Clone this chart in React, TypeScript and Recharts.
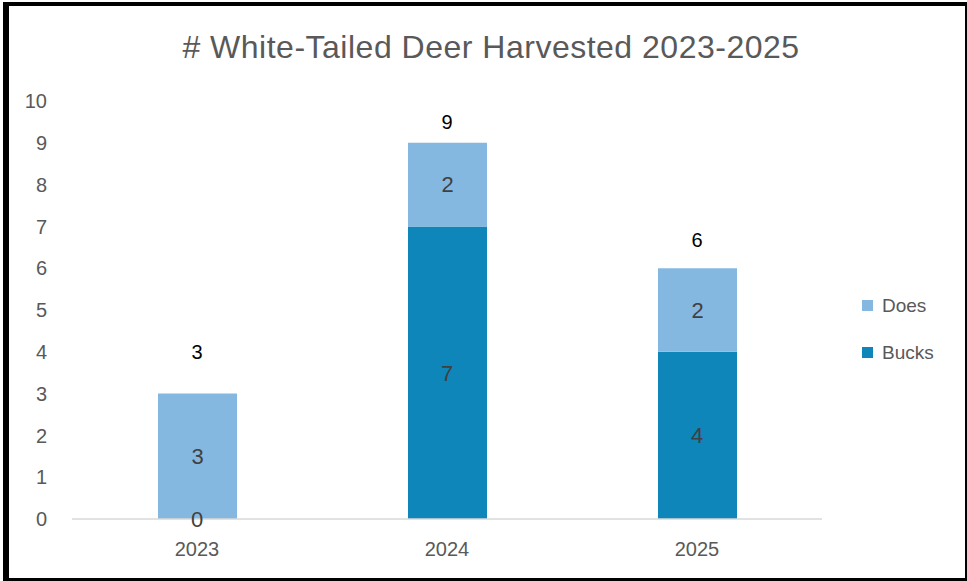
import React from 'react';
import { ComposedChart, Bar, Line, XAxis, YAxis, LabelList } from 'recharts';

const years = ['2023', '2024', '2025'];
const bucks = [0, 7, 4];
const does = [3, 2, 2];
const totals = [3, 9, 6];
const totalLabelPos = [4.0, 9.5, 6.67];
const yTicks = [0, 1, 2, 3, 4, 5, 6, 7, 8, 9, 10];

const BUCKS_COLOR = '#0E86B9';
const DOES_COLOR = '#84B8E0';
const FONT = '"Liberation Sans", Arial, sans-serif';

const data = years.map((y, i) => ({
  year: y,
  Bucks: bucks[i],
  Does: does[i],
  bucksMid: bucks[i] / 2,
  total: totals[i],
  totalPos: totalLabelPos[i],
}));

const legendItems = [
  { name: 'Does', color: DOES_COLOR },
  { name: 'Bucks', color: BUCKS_COLOR },
];

export default function App() {
  return (
    <div style={{ position: 'absolute', left: 0, top: 0, width: 967, height: 581, background: '#fff', fontFamily: FONT }}>
      <ComposedChart
        width={967}
        height={581}
        data={data}
        margin={{ top: 101, right: 145, bottom: 0, left: 0 }}
        style={{ fontFamily: FONT }}
      >
        <text
          x={491}
          y={47}
          textAnchor="middle"
          dominantBaseline="central"
          fontSize={32}
          letterSpacing={0.5}
          fill="#595959"
          fontFamily={FONT}
        >
          # White-Tailed Deer Harvested 2023-2025
        </text>
        <XAxis
          dataKey="year"
          axisLine={{ stroke: '#D9D9D9', strokeWidth: 1.5 }}
          tickLine={false}
          tickSize={0}
          tickMargin={23}
          tick={{ fill: '#595959', fontSize: 20 }}
          height={62}
        />
        <YAxis
          domain={[0, 10]}
          ticks={yTicks}
          width={72}
          axisLine={false}
          tickLine={false}
          tickSize={0}
          tickMargin={25}
          tick={{ fill: '#595959', fontSize: 20 }}
          interval={0}
        />
        <Bar dataKey="Bucks" stackId="a" fill={BUCKS_COLOR} barSize={79} isAnimationActive={false} />
        <Bar dataKey="Does" stackId="a" fill={DOES_COLOR} barSize={79} isAnimationActive={false}>
          <LabelList dataKey="Does" position="center" fill="#404040" fontSize={22} />
        </Bar>
        <Line
          dataKey="bucksMid"
          stroke="none"
          dot={false}
          activeDot={false}
          legendType="none"
          isAnimationActive={false}
        >
          <LabelList dataKey="Bucks" position="center" fill="#404040" fontSize={22} />
        </Line>
        <Line
          dataKey="totalPos"
          stroke="none"
          dot={false}
          activeDot={false}
          legendType="none"
          isAnimationActive={false}
        >
          <LabelList dataKey="total" position="center" fill="#000" fontSize={20} />
        </Line>
      </ComposedChart>
      <div style={{ position: 'absolute', left: 862, top: 282, width: 100 }}>
        {legendItems.map((it) => (
          <div key={it.name} style={{ display: 'flex', alignItems: 'center', height: 47 }}>
            <span style={{ display: 'inline-block', width: 11, height: 11, background: it.color, marginRight: 9 }} />
            <span style={{ fontSize: 19, color: '#595959' }}>{it.name}</span>
          </div>
        ))}
      </div>
      <div
        style={{
          position: 'absolute',
          left: 3,
          top: 2,
          right: 0,
          bottom: 0,
          borderLeft: '6px solid #000',
          borderTop: '4px solid #000',
          borderRight: '2px solid #000',
          borderBottom: '3px solid #000',
          pointerEvents: 'none',
        }}
      />
    </div>
  );
}
